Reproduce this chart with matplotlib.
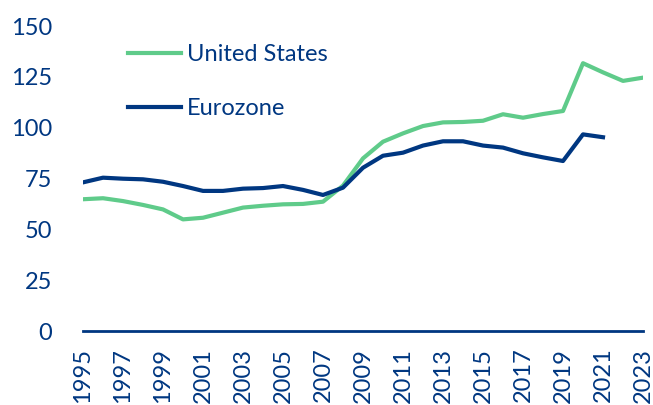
import matplotlib
matplotlib.use('Agg')
import matplotlib.pyplot as plt

# Data
years = list(range(1995, 2024))
us = [64.8, 65.3, 63.9, 62.0, 59.8, 54.9, 55.7, 58.2, 60.7, 61.6, 62.3, 62.5, 63.6,
      71.5, 84.9, 93.1, 97.2, 100.8, 102.6, 102.8, 103.4, 106.6, 104.9, 106.7, 108.2,
      131.7, 127.2, 123.0, 124.6]
ez_years = list(range(1995, 2022))
ez = [73.1, 75.4, 74.9, 74.6, 73.4, 71.3, 68.9, 68.9, 70.0, 70.3, 71.3, 69.4, 66.9,
      70.5, 80.3, 86.2, 87.7, 91.2, 93.3, 93.3, 91.2, 90.2, 87.4, 85.4, 83.6,
      96.7, 95.3]
xticks = list(range(1995, 2024, 2))
yticks = [0, 25, 50, 75, 100, 125, 150]

GREEN = '#5FCB8A'
NAVY = '#003781'

plt.rcParams['font.family'] = ['Lato', 'DejaVu Sans']

fig = plt.figure(figsize=(6.53, 4.05), dpi=100)
ax = fig.add_axes([0.1271, 0.1827, 0.8576, 0.7531])

ax.plot(years, us, color=GREEN, linewidth=3, label='United States')
ax.plot(ez_years, ez, color=NAVY, linewidth=3, label='Eurozone')

ax.set_xlim(1995, 2023)
ax.set_ylim(0, 150)
ax.set_xticks(xticks)
ax.set_xticklabels([str(y) for y in xticks], rotation=90)
ax.set_yticks(yticks)

for side in ['top', 'right', 'left']:
    ax.spines[side].set_visible(False)
ax.spines['bottom'].set_color(NAVY)
ax.spines['bottom'].set_linewidth(2)

ax.tick_params(axis='both', length=0, labelsize=17, colors=NAVY)
ax.tick_params(axis='y', pad=22)
ax.tick_params(axis='x', pad=12)

leg = ax.legend(loc='upper left', bbox_to_anchor=(0.080, 0.94), frameon=False,
                fontsize=17, handlelength=2.25, handletextpad=0.25,
                labelspacing=1.4, borderpad=0, borderaxespad=0)
for t in leg.get_texts():
    t.set_color(NAVY)

fig.savefig('out.png', dpi=100)
